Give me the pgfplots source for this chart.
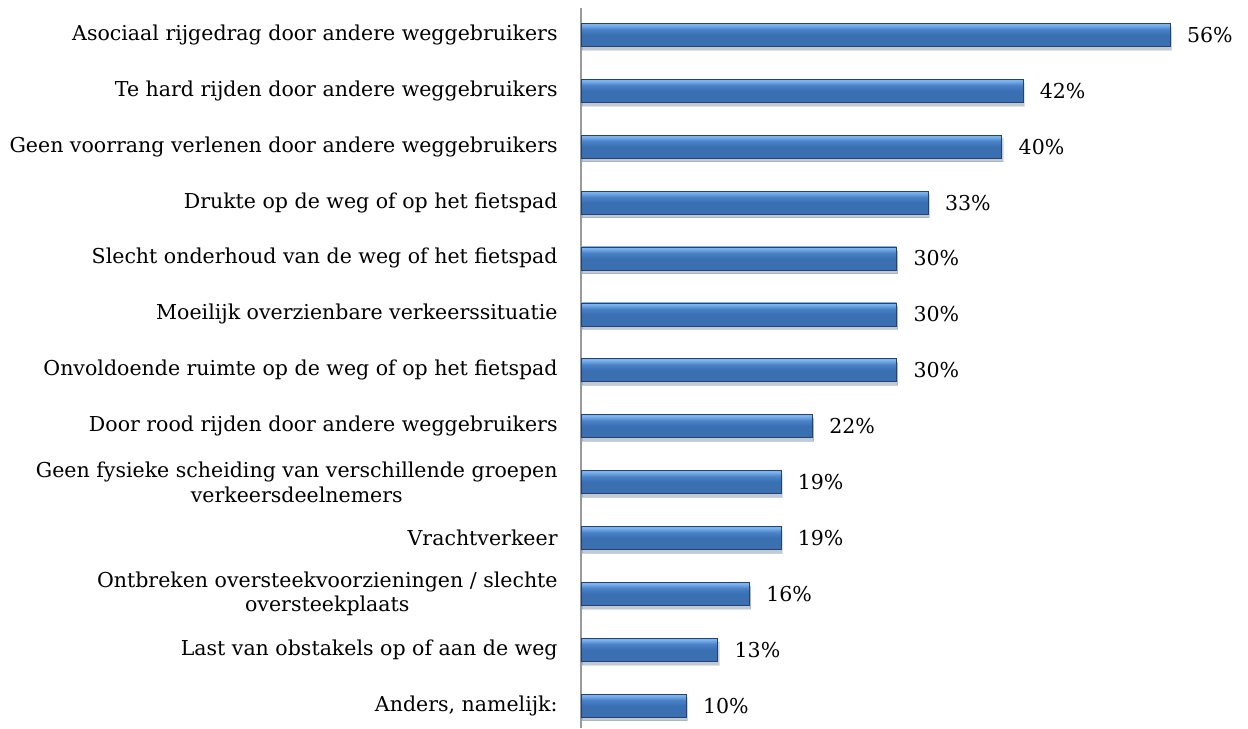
\documentclass[border=0pt]{standalone}
\usepackage{fontspec}
\setmainfont{DejaVu Serif}
\usepackage{pgfplots}
\pgfplotsset{compat=1.18}
\usetikzlibrary{shadows}

\definecolor{bdark}{HTML}{22446F}
\definecolor{bmain}{HTML}{3A6FB2}
\definecolor{bmid}{HTML}{4A82C8}
\definecolor{blight}{HTML}{7DB4EE}
\definecolor{btop}{HTML}{5A92D6}
\definecolor{axisgray}{HTML}{9A9A9A}

\pgfdeclareverticalshading{barshade}{100bp}{
  color(0bp)=(bdark); color(10bp)=(bdark); color(18bp)=(bmain);
  color(50bp)=(bmain); color(62bp)=(bmid); color(72bp)=(blight);
  color(82bp)=(blight); color(90bp)=(btop); color(100bp)=(btop)}

\pgfplotsset{bb/.style={draw=bdark, line width=0.3pt, shading=barshade,
  drop shadow={opacity=0.15, fill=black, shadow xshift=0.6bp, shadow yshift=-1.8bp}}}

\begin{document}
\begin{tikzpicture}
\begin{axis}[
  at={(0,0)}, anchor=south west,
  scale only axis, width=315.6bp, height=360bp,
  xbar, bar width=11.5bp, bar shift=0pt,
  xmin=0, xmax=60,
  ymin=-0.48, ymax=12.4, y dir=reverse,
  ytick={0,...,12},
  yticklabels={
    Asociaal rijgedrag door andere weggebruikers,
    Te hard rijden door andere weggebruikers,
    Geen voorrang verlenen door andere weggebruikers,
    Drukte op de weg of op het fietspad,
    Slecht onderhoud van de weg of het fietspad,
    Moeilijk overzienbare verkeerssituatie,
    Onvoldoende ruimte op de weg of op het fietspad,
    Door rood rijden door andere weggebruikers,
    {Geen fysieke scheiding van verschillende groepen\\verkeersdeelnemers},
    Vrachtverkeer,
    {Ontbreken oversteekvoorzieningen / slechte\\oversteekplaats},
    Last van obstakels op of aan de weg,
    {Anders, namelijk:}},
  yticklabel style={font=\fontsize{10.3}{12.4}\selectfont, align=center, inner sep=0pt, xshift=-11.5bp},
  major tick length=0pt,
  axis x line=none,
  axis y line*=left,
  y axis line style={draw=axisgray, line width=0.8pt, -},
  /pgf/number format/assume math mode=true,
  nodes near coords={\pgfmathprintnumber{\pgfplotspointmeta}\%},
  nodes near coords style={font=\fontsize{10.3}{12.4}\selectfont, anchor=west, xshift=5bp, text=black},
  clip=false,
]
\addplot[bb] coordinates {(56,0)};
\addplot[bb] coordinates {(42,1)};
\addplot[bb] coordinates {(40,2)};
\addplot[bb] coordinates {(33,3)};
\addplot[bb] coordinates {(30,4)};
\addplot[bb] coordinates {(30,5)};
\addplot[bb] coordinates {(30,6)};
\addplot[bb] coordinates {(22,7)};
\addplot[bb] coordinates {(19,8)};
\addplot[bb] coordinates {(19,9)};
\addplot[bb] coordinates {(16,10)};
\addplot[bb] coordinates {(13,11)};
\addplot[bb] coordinates {(10,12)};
\end{axis}
\pgfresetboundingbox
\path (-290.5bp,-0.3bp) rectangle (333.5bp,364bp);
\end{tikzpicture}
\end{document}
